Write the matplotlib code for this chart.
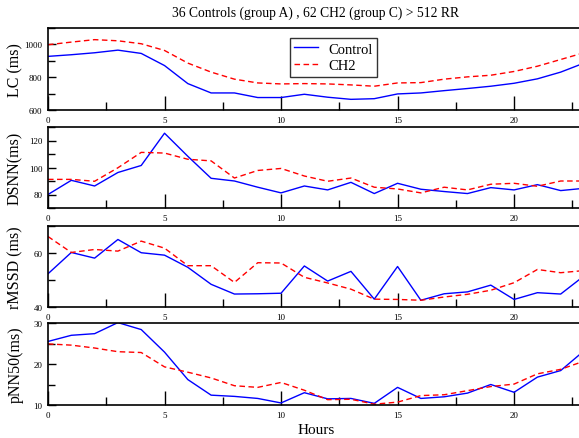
import numpy as np
import matplotlib
matplotlib.use("Agg")
import matplotlib.pyplot as plt
from matplotlib.ticker import MultipleLocator

hours = list(range(24))

lc_control = [927, 937, 949, 965, 945, 871, 761, 704, 704, 676, 676, 696,
              678, 665, 669, 698, 704, 718, 731, 745, 763, 790, 831, 886]
lc_ch2 = [998, 1014, 1029, 1022, 1004, 963, 886, 831, 788, 765, 759, 761,
          759, 753, 745, 765, 767, 788, 802, 812, 835, 867, 908, 949]

dsnn_control = [80, 90.5, 86.3, 96.3, 101.5, 125.4, 108.3, 92, 90, 85.4, 81.2, 86.3,
                83.4, 89, 80.7, 88.3, 83.9, 82.2, 80.7, 85.1, 83.4, 87.3, 82.9, 84.6]
dsnn_ch2 = [91.2, 91.2, 89.8, 99.8, 111.2, 110.7, 106.1, 104.9, 92.2, 97.8, 99.3, 93.7,
            89.8, 92.2, 85.4, 84.1, 81.2, 85.4, 83.4, 87.6, 88.3, 86.1, 90, 90]

rmssd_control = [52.3, 60.2, 58.1, 65, 60.1, 59.2, 54.7, 48.4, 44.8, 44.9, 45.1, 55.2,
                 49.6, 53.2, 42.9, 55, 42.5, 44.9, 45.6, 48.1, 42.8, 45.3, 44.8, 51.5]
rmssd_ch2 = [66.1, 60.2, 61.3, 60.7, 64.4, 61.8, 55.3, 55.3, 49.1, 56.4, 56.3, 51,
             48.9, 46.6, 42.9, 42.8, 42.5, 43.7, 44.7, 46.2, 49, 53.9, 52.7, 53.5]

pnn50_control = [25.5, 27, 27.4, 30.1, 28.4, 22.9, 16.2, 12.4, 12.1, 11.6, 10.5, 13,
                 11.5, 11.6, 10.4, 14.3, 11.6, 12, 12.9, 15, 13.1, 16.8, 18.4, 23.2]
pnn50_ch2 = [24.9, 24.6, 23.9, 23, 22.8, 19.3, 18, 16.6, 14.7, 14.3, 15.5, 13.6,
             11.3, 11.4, 10.2, 10.7, 12.3, 12.5, 13.5, 14.5, 15.1, 17.6, 18.7, 20.7]

panels = [
    ("LC (ms)", lc_control, lc_ch2, (600, 1100), 200, 100),
    ("DSNN(ms)", dsnn_control, dsnn_ch2, (70, 130), 20, 10),
    ("rMSSD (ms)", rmssd_control, rmssd_ch2, (40, 70), 20, 10),
    ("pNN50(ms)", pnn50_control, pnn50_ch2, (10, 30), 10, 5),
]

plt.rcParams['font.family'] = ['Liberation Serif', 'DejaVu Serif']

W, H = 579, 439
fig = plt.figure(figsize=(W / 100, H / 100), dpi=100)

tops = [29, 128, 227, 324]
bottoms = [111, 209, 308, 406]
x0, x23 = 48, 584

axes = []
for (label, ctrl, ch2, ylim, major, minor), top, bot in zip(panels, tops, bottoms):
    ax = fig.add_axes([x0 / W, 1 - bot / H, (x23 - x0) / W, (bot - top) / H])
    l1, = ax.plot(hours, ctrl, color='#0000ff', lw=1.0, label='Control')
    l2, = ax.plot(hours, ch2, color='#ff0000', lw=1.0, ls=(0, (4, 2.5)), label='CH2')
    ax.set_xlim(0, 23)
    ax.set_ylim(*ylim)
    ax.xaxis.set_major_locator(MultipleLocator(5))
    ax.xaxis.set_minor_locator(MultipleLocator(2.5))
    ax.yaxis.set_major_locator(MultipleLocator(major))
    ax.yaxis.set_minor_locator(MultipleLocator(minor))
    ax.tick_params(which='both', direction='in', top=False, right=False,
                   labelsize=6.5, width=1.0)
    ax.tick_params(axis='x', which='major', length=10, pad=4)
    ax.tick_params(axis='x', which='minor', length=6)
    ax.tick_params(axis='y', which='major', length=6, pad=4)
    ax.tick_params(axis='y', which='minor', length=5)
    for s in ax.spines.values():
        s.set_linewidth(1.2)
    ax.set_ylabel(label, fontsize=11.5)
    ax.yaxis.set_label_coords(-0.046, 0.5)
    axes.append(ax)

leg = axes[0].legend(handles=[l1, l2], loc='upper left', bbox_to_anchor=(0.4515, 0.878),
                     borderaxespad=0, fontsize=10.5, frameon=True, fancybox=False,
                     edgecolor='black', handlelength=1.6, borderpad=0.3,
                     labelspacing=0.25, handletextpad=0.7)
leg.get_frame().set_linewidth(1.0)

axes[0].set_title("36 Controls (group A) , 62 CH2 (group C) > 512 RR", fontsize=9.8, pad=9)
axes[-1].set_xlabel("Hours", fontsize=11, labelpad=3)

fig.savefig("out.png", dpi=100)
